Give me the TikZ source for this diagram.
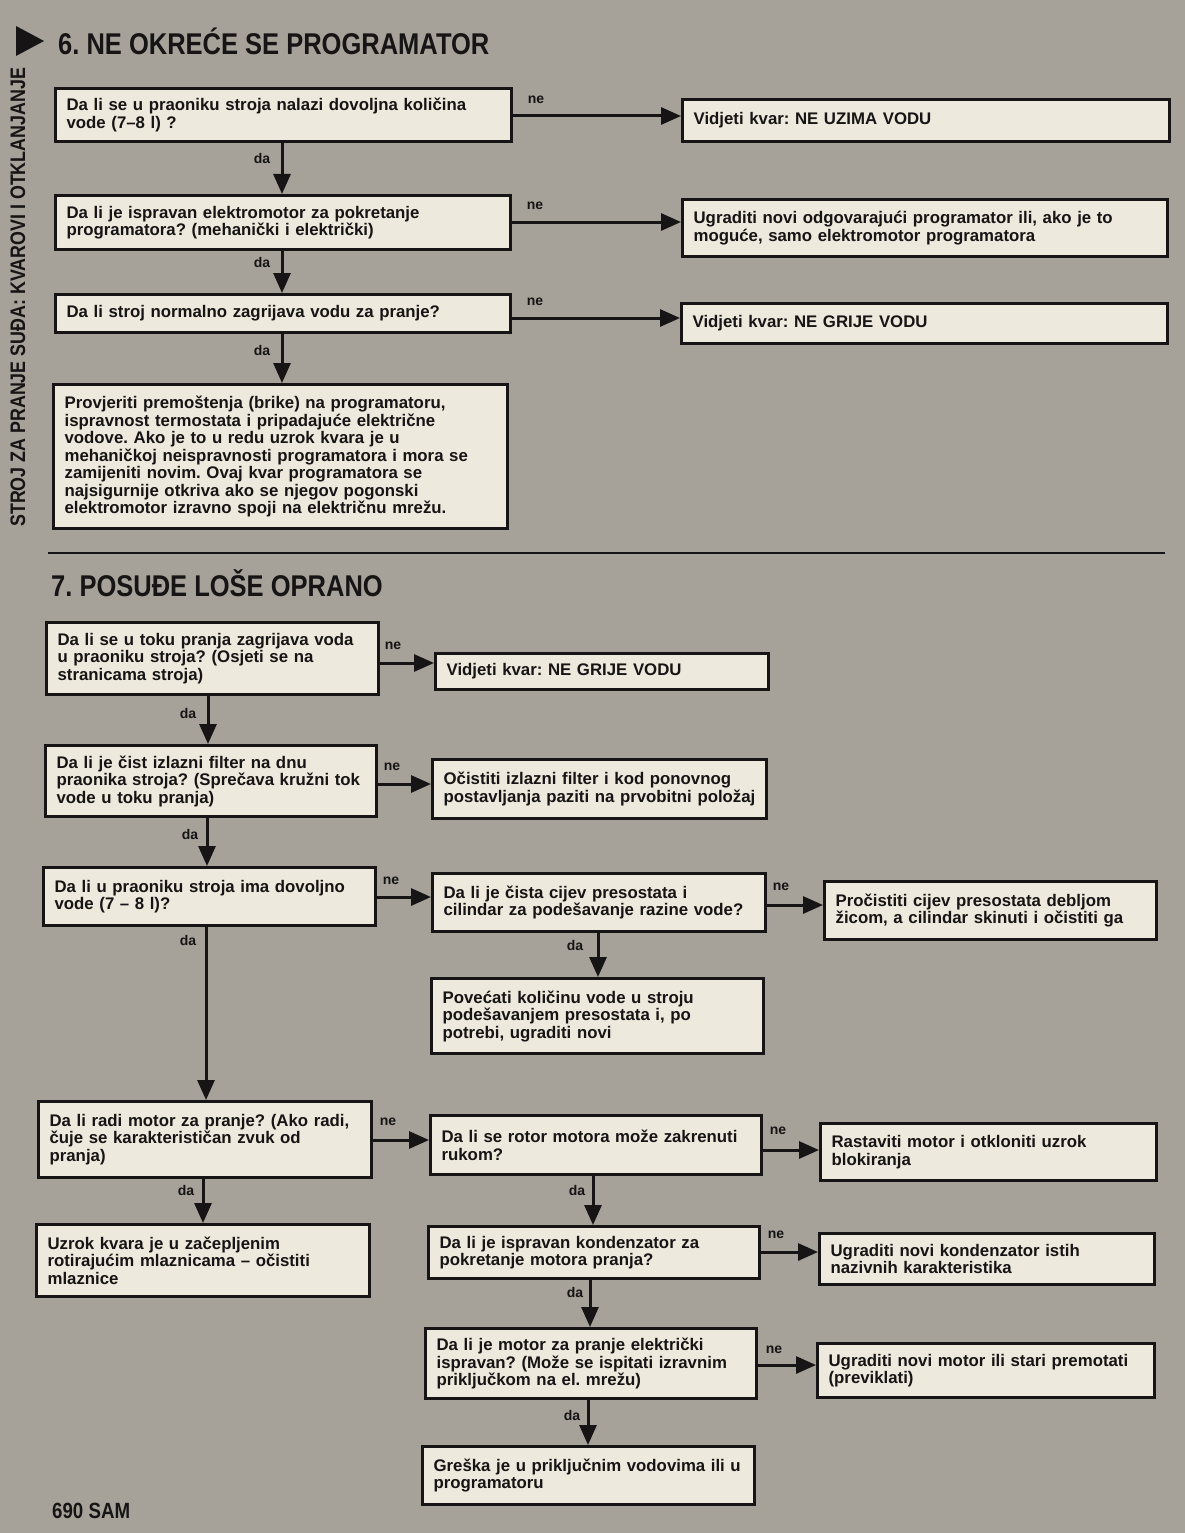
\documentclass[tikz,border=0pt]{standalone}
\usepackage{fontspec}
\setmainfont{Liberation Sans}
\newfontfamily\titlefont[FakeStretch=0.85]{Liberation Sans}
\usetikzlibrary{arrows.meta}
\definecolor{bg}{RGB}{166,162,154}
\definecolor{boxfill}{RGB}{238,233,221}
\definecolor{ink}{RGB}{22,20,20}
\tikzset{
 box/.style={draw=ink, line width=3.2pt, fill=boxfill, anchor=north west, align=left,
   inner xsep=11pt, inner ysep=3pt, font=\fontsize{16.8}{17.5}\selectfont\bfseries, text=ink},
 arr/.style={draw=ink, line width=3pt, -{Triangle[length=20pt,width=17pt]}},
 lbl/.style={font=\fontsize{14}{14}\selectfont\bfseries, text=ink, inner sep=0pt},
}
\newcommand\mkbox[6]{%
  \pgfmathsetmacro\mytw{#4-22}%
  \node[box, minimum width=#4pt, minimum height=#5pt, text width=\mytw pt] (#1) at (#2,#3) {#6};}
\frenchspacing
\begin{document}
\begin{tikzpicture}[x=1pt,y=-1pt]
\path[fill=bg] (0,0) rectangle (1185,1533);
\useasboundingbox (0,0) rectangle (1185,1533);

% side marker and vertical heading
\fill[ink] (16,26) -- (16,56) -- (44,41) -- cycle;
\node[rotate=90, anchor=base west, inner sep=0pt, text=ink,
  font=\titlefont\bfseries\fontsize{21}{21}\selectfont] (side) at (25,527)
  {STROJ ZA PRANJE SUĐA: KVAROVI I OTKLANJANJE};

% ---------- section 6 ----------
\node[anchor=base west, inner sep=0pt, text=ink,
  font=\titlefont\bfseries\fontsize{30}{30}\selectfont] (t6) at (58,55)
  {6. NE OKREĆE SE PROGRAMATOR};

\mkbox{A1}{54}{87}{456}{53}{Da li se u praoniku stroja nalazi dovoljna količina\\vode (7–8 l) ?}
\mkbox{R1}{681}{98}{487}{42}{Vidjeti kvar: NE UZIMA VODU}
\mkbox{A2}{54}{194}{455}{54}{Da li je ispravan elektromotor za pokretanje\\programatora? (mehanički i električki)}
\mkbox{R2}{681}{198}{485}{57}{Ugraditi novi odgovarajući programator ili, ako je to\\moguće, samo elektromotor programatora}
\mkbox{A3}{54}{293}{455}{38}{Da li stroj normalno zagrijava vodu za pranje?}
\mkbox{R3}{680}{302}{486}{40}{Vidjeti kvar: NE GRIJE VODU}
\mkbox{A4}{52}{383}{454}{144}{Provjeriti premoštenja (brike) na programatoru,\\ispravnost termostata i pripadajuće električne\\vodove. Ako je to u redu uzrok kvara je u\\mehaničkoj neispravnosti programatora i mora se\\zamijeniti novim. Ovaj kvar programatora se\\najsigurnije otkriva ako se njegov pogonski\\elektromotor izravno spoji na električnu mrežu.}

\draw[arr] (A1.east |- 0,116) -- (R1.west |- 0,116);
\draw[arr] (A2.east |- 0,222) -- (R2.west |- 0,222);
\draw[arr] (A3.east |- 0,318) -- (R3.west |- 0,318);
\draw[arr] (282,0 |- A1.south) -- (282,0 |- A2.north);
\draw[arr] (282,0 |- A2.south) -- (282,0 |- A3.north);
\draw[arr] (282,0 |- A3.south) -- (282,0 |- A4.north);
\node[lbl] (n1) at (536,100) {ne};
\node[lbl] (n2) at (535,206) {ne};
\node[lbl] (n3) at (535,302) {ne};
\node[lbl] (d1) at (262,158) {da};
\node[lbl] (d2) at (262,262) {da};
\node[lbl] (d3) at (262,350) {da};

\draw[ink, line width=2.2pt] (48,553) -- (1165,553);

% ---------- section 7 ----------
\node[anchor=base west, inner sep=0pt, text=ink,
  font=\titlefont\bfseries\fontsize{30}{30}\selectfont] (t7) at (51,596)
  {7. POSUĐE LOŠE OPRANO};

\mkbox{B1}{45}{621}{332}{72}{Da li se u toku pranja zagrijava voda\\u praoniku stroja? (Osjeti se na\\stranicama stroja)}
\mkbox{S1}{434}{652}{333}{36}{Vidjeti kvar: NE GRIJE VODU}
\mkbox{B2}{44}{744}{331}{71}{Da li je čist izlazni filter na dnu\\praonika stroja? (Sprečava kružni tok\\vode u toku pranja)}
\mkbox{S2}{431}{758}{334}{59}{Očistiti izlazni filter i kod ponovnog\\postavljanja paziti na prvobitni položaj}
\mkbox{B3}{42}{866}{332}{58}{Da li u praoniku stroja ima dovoljno\\vode (7 – 8 l)?}
\mkbox{C1}{431}{872}{333}{58}{Da li je čista cijev presostata i\\cilindar za podešavanje razine vode?}
\mkbox{C2}{823}{880}{332}{58}{Pročistiti cijev presostata debljom\\žicom, a cilindar skinuti i očistiti ga}
\mkbox{C3}{430}{977}{332}{75}{Povećati količinu vode u stroju\\podešavanjem presostata i, po\\potrebi, ugraditi novi}
\mkbox{B6}{37}{1100}{333}{76}{Da li radi motor za pranje? (Ako radi,\\čuje se karakterističan zvuk od\\pranja)}
\mkbox{B7}{35}{1223}{333}{72}{Uzrok kvara je u začepljenim\\rotirajućim mlaznicama – očistiti\\mlaznice}
\mkbox{D1}{429}{1114}{331}{59}{Da li se rotor motora može zakrenuti\\rukom?}
\mkbox{D2}{819}{1122}{336}{57}{Rastaviti motor i otkloniti uzrok\\blokiranja}
\mkbox{D3}{427}{1225}{331}{52}{Da li je ispravan kondenzator za\\pokretanje motora pranja?}
\mkbox{D4}{818}{1232}{335}{51}{Ugraditi novi kondenzator istih\\nazivnih karakteristika}
\mkbox{D5}{424}{1327}{331}{70}{Da li je motor za pranje električki\\ispravan? (Može se ispitati izravnim\\priključkom na el. mrežu)}
\mkbox{D6}{816}{1342}{337}{54}{Ugraditi novi motor ili stari premotati\\(previklati)}
\mkbox{D7}{421}{1445}{332}{58}{Greška je u priključnim vodovima ili u\\programatoru}

% horizontal (ne) arrows
\draw[arr] (B1.east |- 0,663) -- (S1.west |- 0,663);
\draw[arr] (B2.east |- 0,784) -- (S2.west |- 0,784);
\draw[arr] (B3.east |- 0,897) -- (C1.west |- 0,897);
\draw[arr] (C1.east |- 0,905) -- (C2.west |- 0,905);
\draw[arr] (B6.east |- 0,1140) -- (D1.west |- 0,1140);
\draw[arr] (D1.east |- 0,1150) -- (D2.west |- 0,1150);
\draw[arr] (D3.east |- 0,1252) -- (D4.west |- 0,1252);
\draw[arr] (D5.east |- 0,1365) -- (D6.west |- 0,1365);
% vertical (da) arrows
\draw[arr] (208,0 |- B1.south) -- (208,0 |- B2.north);
\draw[arr] (207,0 |- B2.south) -- (207,0 |- B3.north);
\draw[arr] (206,0 |- B3.south) -- (206,0 |- B6.north);
\draw[arr] (203,0 |- B6.south) -- (203,0 |- B7.north);
\draw[arr] (598,0 |- C1.south) -- (598,0 |- C3.north);
\draw[arr] (593,0 |- D1.south) -- (593,0 |- D3.north);
\draw[arr] (590,0 |- D3.south) -- (590,0 |- D5.north);
\draw[arr] (588,0 |- D5.south) -- (588,0 |- D7.north);

\node[lbl] (m1) at (393,646) {ne};
\node[lbl] (m2) at (392,767) {ne};
\node[lbl] (m3) at (391,881) {ne};
\node[lbl] (m4) at (781,887) {ne};
\node[lbl] (m5) at (388,1122) {ne};
\node[lbl] (m6) at (778,1131) {ne};
\node[lbl] (m7) at (776,1235) {ne};
\node[lbl] (m8) at (774,1350) {ne};
\node[lbl] (e1) at (188,713) {da};
\node[lbl] (e2) at (190,834) {da};
\node[lbl] (e3) at (188,940) {da};
\node[lbl] (e4) at (575,945) {da};
\node[lbl] (e5) at (186,1190) {da};
\node[lbl] (e6) at (577,1190) {da};
\node[lbl] (e7) at (575,1292) {da};
\node[lbl] (e8) at (572,1415) {da};

\node[anchor=base west, inner sep=0pt, text=ink,
  font=\titlefont\bfseries\fontsize{22}{22}\selectfont] (pg) at (52,1518) {690 SAM};
\end{tikzpicture}
\end{document}
